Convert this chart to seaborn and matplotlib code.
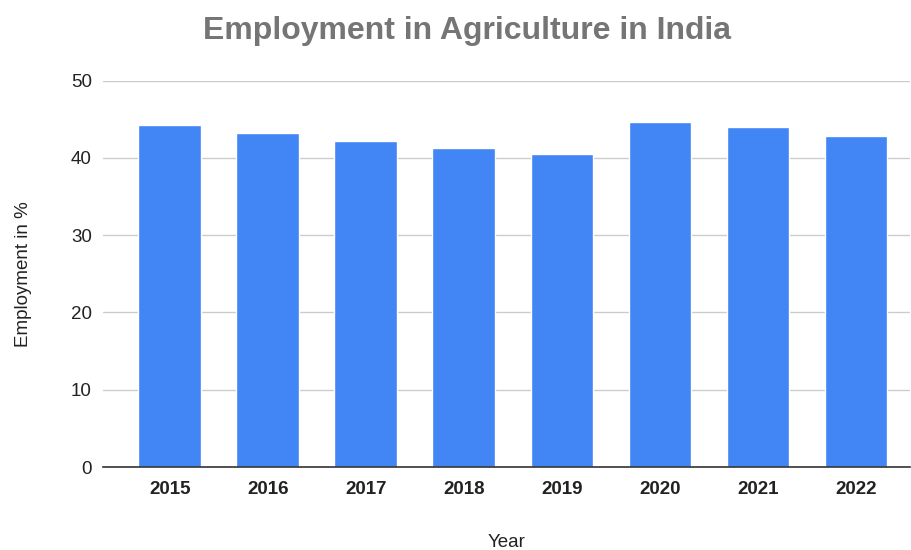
import matplotlib
matplotlib.use("Agg")
import matplotlib.pyplot as plt
import seaborn as sns
import pandas as pd

years = ["2015", "2016", "2017", "2018", "2019", "2020", "2021", "2022"]
employment = [44.3, 43.2, 42.2, 41.3, 40.5, 44.6, 44.0, 42.8]

sns.set_theme(style="white")
plt.rcParams['font.family'] = ['Liberation Sans', 'DejaVu Sans']

df = pd.DataFrame({"Year": years, "Employment": employment})

fig = plt.figure(figsize=(9.12, 5.5), dpi=100)
ax = fig.add_axes([103/912, (550-467)/550, (910-103)/912, (467-80.7)/550])

sns.barplot(data=df, x="Year", y="Employment", color="#4285F4", saturation=1,
            width=0.64, ax=ax, zorder=3)

ax.set_ylim(0, 50)
ax.set_xlim(-0.68, 7.55)
ax.set_yticks([0, 10, 20, 30, 40, 50])
ax.yaxis.grid(True, color="#cccccc", linewidth=1, zorder=0)
for s in ["top", "right", "left"]:
    ax.spines[s].set_visible(False)
ax.spines["bottom"].set_color("#333333")
ax.spines["bottom"].set_linewidth(1.2)
ax.spines["bottom"].set_zorder(4)
ax.tick_params(axis="both", length=0, labelsize=13.5, colors="#222222")
ax.tick_params(axis="y", pad=8)
ax.tick_params(axis="x", pad=10)
for lab in ax.get_xticklabels():
    lab.set_fontweight("bold")

ax.set_xlabel("Year", fontsize=13.5, color="#222222", labelpad=26)
ax.set_ylabel("Employment in %", fontsize=13.5, color="#222222", labelpad=28)
fig.suptitle("Employment in Agriculture in India", x=467/912, y=1-31/550, va="center",
             fontsize=23, fontweight="bold", color="#757575")

fig.savefig("out.png", dpi=100)
